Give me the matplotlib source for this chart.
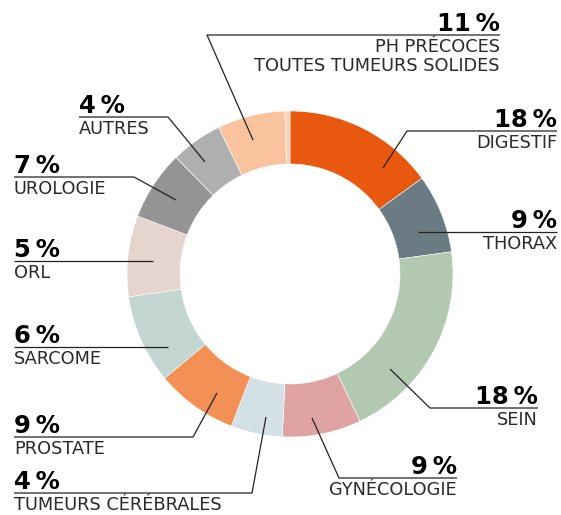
import matplotlib
matplotlib.use("Agg")
import matplotlib.pyplot as plt

W, H = 561, 515

# slices, clockwise from 12 o'clock (shares read from the drawn arcs)
names = ["DIGESTIF", "THORAX", "SEIN", "GYNÉCOLOGIE", "TUMEURS CÉRÉBRALES",
         "PROSTATE", "SARCOME", "ORL", "UROLOGIE", "AUTRES",
         "PH PRÉCOCES\nTOUTES TUMEURS SOLIDES", ""]
shares = [15.0, 7.8, 20.1, 7.8, 5.1, 8.1, 8.8, 8.0, 6.9, 5.1, 6.7, 0.5]
pct_text = ["18", "9", "18", "9", "4", "9", "6", "5", "7", "4", "11", None]
colors = ["#e9580f", "#6b7b84", "#b2c8b0", "#dea3a2", "#d3e0e6",
          "#f29055", "#c3d6d2", "#e6d4ce", "#949494", "#afafaf",
          "#f9c39d", "#fbd3b5"]

# label layout in pixels: leader start (x, y), elbow x, rule y, rule end x, side
layout = [
    ((383, 168), 407, 131, 557, "r"),
    ((418, 232), 418, 232, 557, "r"),
    ((390, 369), 430, 408, 538, "r"),
    ((312, 418), 339, 478, 457, "r"),
    ((266, 417), 252, 493, 14, "l"),
    ((217, 393), 193, 437, 14, "l"),
    ((168, 347), 168, 347, 14, "l"),
    ((153, 261), 153, 261, 14, "l"),
    ((176, 200), 134, 177, 14, "l"),
    ((205, 162), 168, 117, 79, "l"),
    ((253, 140), 207, 35, 500, "r"),
]

fig = plt.figure(figsize=(W / 100, H / 100), dpi=100)
ax = fig.add_axes([0, 0, 1, 1])

ax.pie(shares, colors=colors, startangle=90, counterclock=False,
       center=(290, H - 274), radius=163, frame=True,
       wedgeprops=dict(width=53, edgecolor="white", linewidth=0.4))

for i, (start, ex, ry, endx, side) in enumerate(layout):
    sx, sy = start
    ax.plot([sx, ex, endx], [H - sy, H - ry, H - ry], color="#222222", lw=0.9,
            solid_capstyle="butt")
    ha = "right" if side == "r" else "left"
    ax.text(endx, H - ry + 4, pct_text[i] + "\u2009%", ha=ha, va="baseline",
            fontsize=17.5, fontweight="bold", color="black")
    ax.text(endx, H - ry - 3, names[i], ha=ha, va="top", fontsize=12.8,
            color="#2a2a2a", linespacing=1.1)

ax.set_xlim(0, W)
ax.set_ylim(0, H)
ax.set_aspect("auto")
ax.axis("off")

fig.savefig("out.png", dpi=100)
